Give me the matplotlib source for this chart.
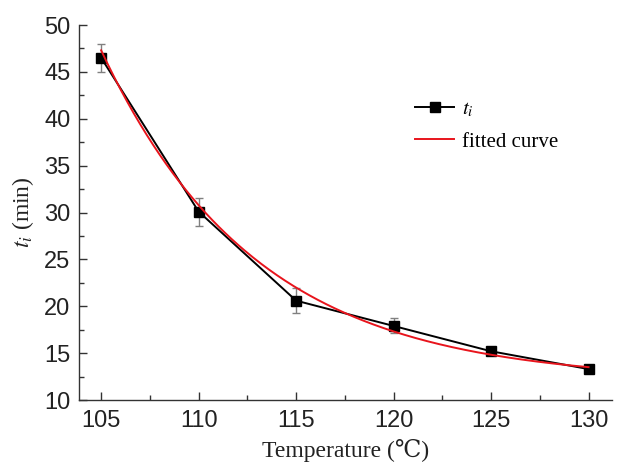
import numpy as np
import matplotlib
matplotlib.use("Agg")
import matplotlib.pyplot as plt
from matplotlib.ticker import MultipleLocator

plt.rcParams['mathtext.fontset'] = 'stix'

temps = [105, 110, 115, 120, 125, 130]
ti = [46.5, 30.1, 20.6, 17.9, 15.2, 13.3]
err = [1.5, 1.5, 1.3, 0.8, 0.4, 0.3]

# exponential decay fit parameters: y = y0 + A*exp(-k*(T-105))
fit_y0 = 12.0
fit_A = 35.3
fit_k = 0.1262

fig = plt.figure(figsize=(6.2, 4.66), dpi=100)
ax = fig.add_axes([0.127, 0.1416, 0.86, 0.8047])

ax.errorbar(temps, ti, yerr=err, fmt='none', ecolor='#808080', elinewidth=1.0,
            capsize=3, capthick=1.0, zorder=2)
ax.plot(temps, ti, color='black', lw=1.4, marker='s', markersize=7,
        label='$t_i$', zorder=3)
xf = np.linspace(105, 130, 300)
yf = fit_y0 + fit_A * np.exp(-fit_k * (xf - 105))
ax.plot(xf, yf, color='#e8141c', lw=1.4, label='fitted curve', zorder=4)

ax.set_xlim(103.85, 131.2)
ax.set_ylim(10, 50)
ax.xaxis.set_major_locator(MultipleLocator(5))
ax.xaxis.set_minor_locator(MultipleLocator(2.5))
ax.yaxis.set_major_locator(MultipleLocator(5))
ax.yaxis.set_minor_locator(MultipleLocator(2.5))
ax.tick_params(which='both', direction='in', width=1.0, color='#333333')
ax.tick_params(which='major', length=6, labelsize=17)
ax.tick_params(axis='x', which='major', pad=7)
ax.tick_params(axis='y', which='major', pad=6)
ax.tick_params(which='minor', length=3.5)
for lab in ax.get_xticklabels() + ax.get_yticklabels():
    lab.set_family('Liberation Sans')
    lab.set_color('#222222')

for s in ['top', 'right']:
    ax.spines[s].set_visible(False)
for s in ['left', 'bottom']:
    ax.spines[s].set_linewidth(1.0)
    ax.spines[s].set_color('#333333')

ax.set_xlabel('Temperature (℃)', family=['Liberation Serif', 'DejaVu Serif'],
              fontsize=17, color='#222222', labelpad=5)
ax.set_ylabel('$t_i$ (min)', family=['Liberation Serif', 'DejaVu Serif'],
              fontsize=17, color='#222222', labelpad=6)

leg = ax.legend(loc='upper left', bbox_to_anchor=(0.595, 0.85), frameon=False,
                prop={'family': 'Liberation Serif', 'size': 15},
                handlelength=1.9, handletextpad=0.35, labelspacing=0.6)

fig.savefig('out.png', dpi=100)
